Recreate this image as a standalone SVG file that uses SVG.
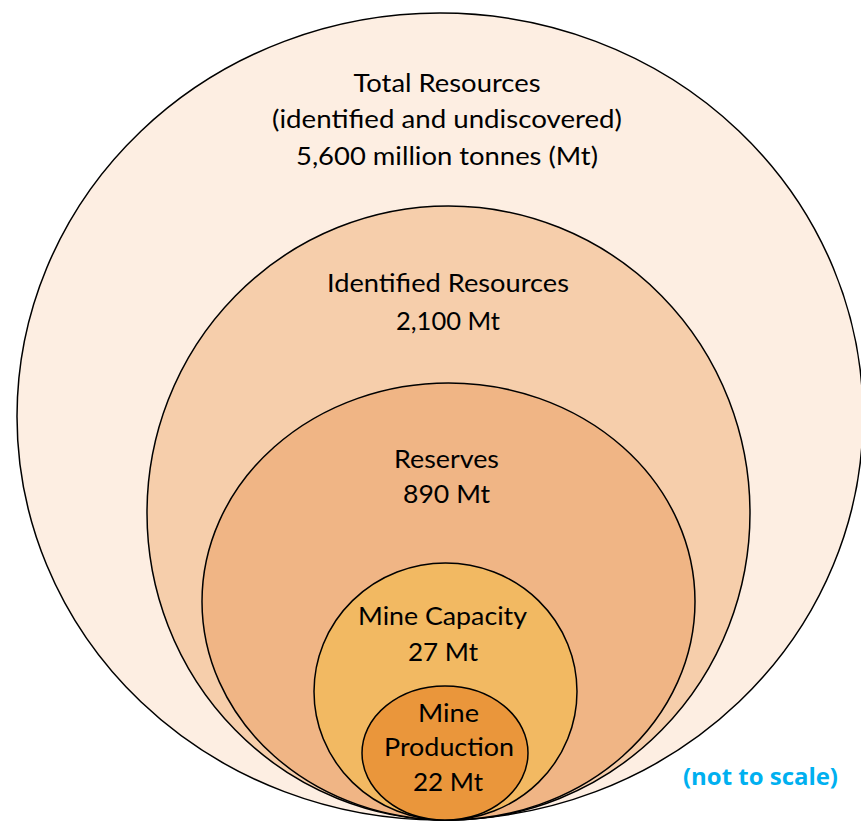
<svg xmlns="http://www.w3.org/2000/svg" width="861" height="822" viewBox="0 0 861 822">
<style>
.c{stroke:#000;stroke-width:1.5}
.t{font-family:Lato,"Liberation Sans",sans-serif;font-size:25px;fill:#000;text-anchor:middle}
.n{font-family:"Open Sans","Liberation Sans",sans-serif;font-weight:bold;font-size:24px;fill:#00B0F0;text-anchor:middle}
</style>
<rect width="861" height="822" fill="#fff"/>
<g id="total">
<ellipse class="c" cx="440" cy="416.5" rx="423" ry="403.5" fill="#FDEEE2"/>
<text class="t" x="447" y="92" textLength="187" lengthAdjust="spacingAndGlyphs">Total Resources</text>
<text class="t" x="447" y="128" textLength="350" lengthAdjust="spacingAndGlyphs">(identified and undiscovered)</text>
<text class="t" x="447" y="165" textLength="302" lengthAdjust="spacingAndGlyphs">5,600 million tonnes (Mt)</text>
</g>
<g id="identified">
<ellipse class="c" cx="448.5" cy="513" rx="301.5" ry="307" fill="#F6CEAB"/>
<text class="t" x="448" y="292" textLength="242" lengthAdjust="spacingAndGlyphs">Identified Resources</text>
<text class="t" x="448" y="330" textLength="104" lengthAdjust="spacingAndGlyphs">2,100 Mt</text>
</g>
<g id="reserves">
<ellipse class="c" cx="448.5" cy="601.5" rx="246.5" ry="218.5" fill="#F0B585"/>
<text class="t" x="446.5" y="468" textLength="105" lengthAdjust="spacingAndGlyphs">Reserves</text>
<text class="t" x="446.5" y="503" textLength="87" lengthAdjust="spacingAndGlyphs">890 Mt</text>
</g>
<g id="capacity">
<ellipse class="c" cx="445.5" cy="691.5" rx="131.5" ry="128.5" fill="#F2B962"/>
<text class="t" x="442.5" y="625" textLength="169" lengthAdjust="spacingAndGlyphs">Mine Capacity</text>
<text class="t" x="443" y="661" textLength="70" lengthAdjust="spacingAndGlyphs">27 Mt</text>
</g>
<g id="production">
<ellipse class="c" cx="445" cy="753" rx="83" ry="67" fill="#EA963B"/>
<text class="t" x="448.5" y="722" textLength="61" lengthAdjust="spacingAndGlyphs">Mine</text>
<text class="t" x="449" y="756" textLength="130" lengthAdjust="spacingAndGlyphs">Production</text>
<text class="t" x="448" y="791" textLength="70" lengthAdjust="spacingAndGlyphs">22 Mt</text>
</g>
<g id="connectors"/>
<text class="n" x="760.5" y="785" textLength="155" lengthAdjust="spacingAndGlyphs">(not to scale)</text>
</svg>
